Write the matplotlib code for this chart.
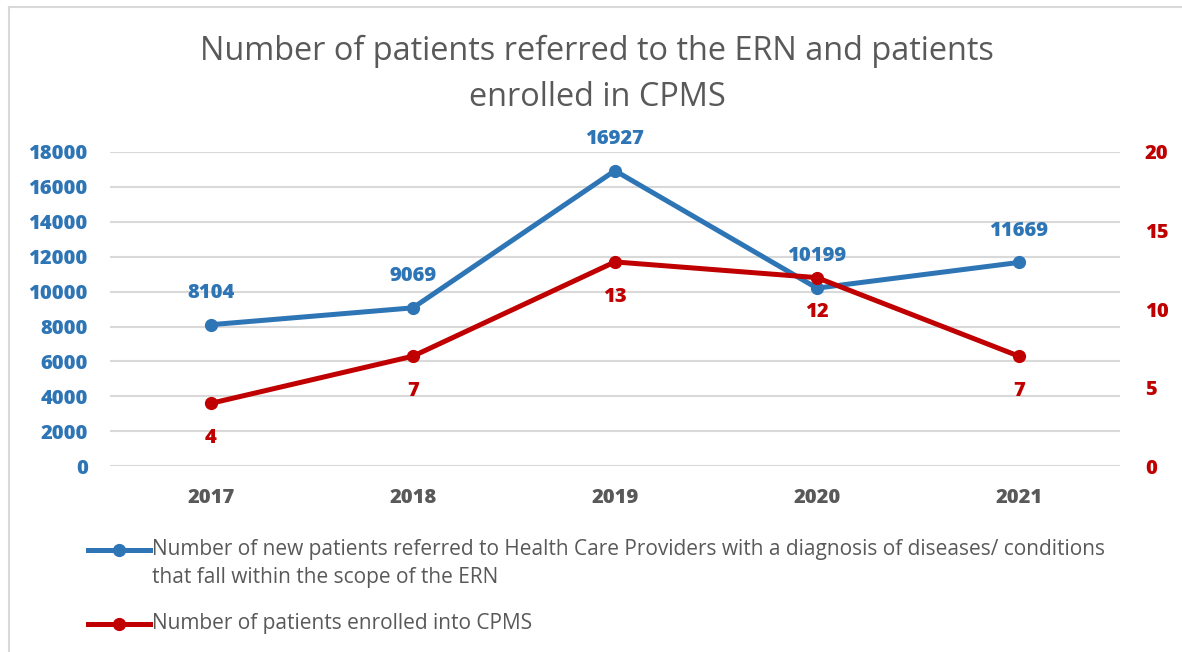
import matplotlib.pyplot as plt
from matplotlib.lines import Line2D

years = ["2017", "2018", "2019", "2020", "2021"]
referred = [8104, 9069, 16927, 10199, 11669]
enrolled = [4, 7, 13, 12, 7]
left_ticks = list(range(0, 18001, 2000))
right_ticks = [0, 5, 10, 15, 20]

blue = "#2E75B6"
red = "#C00000"
grey = "#595959"
plt.rcParams["font.family"] = ["Open Sans", "DejaVu Sans"]
bw = 800

fig = plt.figure(figsize=(11.82, 6.52), dpi=100)
ax = fig.add_axes([0.093, 0.285, 0.8545, 0.482])
ax2 = ax.twinx()

x = list(range(len(years)))
ax.plot(x, referred, color=blue, lw=3.6, marker="o", ms=8.5, zorder=3)
ax2.plot(x, enrolled, color=red, lw=3.6, marker="o", ms=8.5, zorder=3)

for i, v in enumerate(referred):
    ax.annotate(str(v), (i, v), xytext=(0, 23), textcoords="offset points",
                ha="center", va="center", color=blue, fontsize=14.5, fontweight=bw)
for i, v in enumerate(enrolled):
    ax2.annotate(str(v), (i, v), xytext=(0, -25), textcoords="offset points",
                 ha="center", va="center", color=red, fontsize=14.5, fontweight=bw)

ax.set_xlim(-0.5, 4.5)
ax.set_ylim(0, 18000)
ax2.set_ylim(0, 20)
ax.set_xticks(x)
ax.set_xticklabels(years, color=grey, fontsize=14.5, fontweight=bw)
ax.set_yticks(left_ticks)
ax.set_yticklabels([str(t) for t in left_ticks], color=blue, fontsize=14.5, fontweight=bw)
ax2.set_yticks(right_ticks)
ax2.set_yticklabels([str(t) for t in right_ticks], color=red, fontsize=14.5, fontweight=bw)
ax.tick_params(axis="both", length=0)
ax.tick_params(axis="y", pad=16)
ax.tick_params(axis="x", pad=16)
ax2.tick_params(axis="y", length=0, pad=18)
ax.grid(axis="y", color="#D9D9D9", lw=1.5)
ax.set_axisbelow(True)
for s in ax.spines.values():
    s.set_visible(False)
for s in ax2.spines.values():
    s.set_visible(False)

fig.text(0.505, 0.886, "Number of patients referred to the ERN and patients\nenrolled in CPMS",
         ha="center", va="center", color=grey, fontsize=23.4, linespacing=1.5)

# legend drawn by hand so the long label can wrap
W, H = 1182, 652
for y, c in [(550, blue), (624, red)]:
    fig.add_artist(Line2D([88 / W, 150 / W], [1 - y / H, 1 - y / H], color=c, lw=3.6,
                          transform=fig.transFigure))
    fig.add_artist(Line2D([119 / W], [1 - y / H], color=c, marker="o", ms=8.5,
                          transform=fig.transFigure))
fig.text(152 / W, 1 - 550 / H,
         "Number of new patients referred to Health Care Providers with a diagnosis of diseases/ conditions",
         ha="left", va="center", color=grey, fontsize=15)
fig.text(152 / W, 1 - 578 / H, "that fall within the scope of the ERN",
         ha="left", va="center", color=grey, fontsize=15)
fig.text(152 / W, 1 - 624 / H, "Number of patients enrolled into CPMS",
         ha="left", va="center", color=grey, fontsize=15)

# chart frame (top and left edges visible in the crop)
fig.add_artist(Line2D([9 / W, 1], [1 - 7 / H, 1 - 7 / H], color="#D9D9D9", lw=1.5,
                      transform=fig.transFigure))
fig.add_artist(Line2D([9 / W, 9 / W], [0, 1 - 7 / H], color="#D9D9D9", lw=1.5,
                      transform=fig.transFigure))

fig.savefig("out.png", dpi=100)
